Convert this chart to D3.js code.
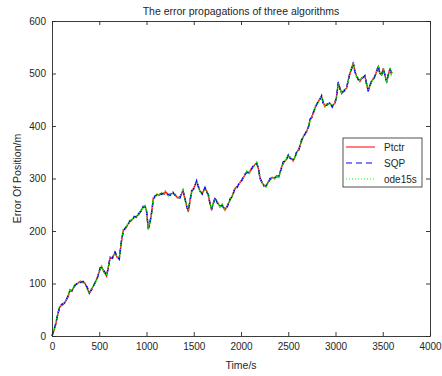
<!DOCTYPE html>
<html><head><meta charset="utf-8">
<script src="https://cdn.jsdelivr.net/npm/d3@7"></script>
<style>body{margin:0;background:#fff}svg{display:block}text{font-family:"Liberation Sans",Arial,sans-serif;fill:#262626}</style>
</head><body>
<script>
const times = [0,20,40,60,80,100,120,140,170,190,210,240,270,300,330,350,370,395,420,455,480,510,526,550,578,600,614,640,667,690,712,735,755,780,800,825,850,870,895,920,945,965,985,1000,1019,1035,1054,1072,1090,1110,1130,1160,1185,1200,1230,1250,1280,1300,1330,1354,1370,1386,1405,1425,1442,1460,1478,1500,1531,1550,1566,1590,1619,1640,1654,1670,1689,1705,1725,1750,1778,1800,1831,1855,1884,1910,1937,1960,1989,2010,2035,2060,2085,2113,2140,2166,2185,2201,2220,2240,2264,2285,2307,2330,2355,2377,2400,2430,2448,2475,2500,2520,2553,2570,2589,2610,2642,2665,2695,2715,2730,2750,2765,2790,2818,2835,2853,2870,2889,2910,2942,2965,2995,3010,3030,3050,3065,3090,3118,3135,3153,3170,3188,3205,3224,3240,3259,3280,3312,3330,3347,3365,3383,3400,3418,3435,3453,3470,3489,3506,3520,3542,3560,3577,3590,3600];
const ptctr = [0,10,22,40,55,58,60,65,75,88,85,97,100,104,102,100,92,81,90,100,112,128,132,122,114,135,148,150,158,150,148,180,202,205,212,218,222,226,228,232,240,245,248,238,203,215,234,262,265,270,268,272,270,275,268,270,272,270,263,265,270,278,262,248,237,258,275,282,294,285,275,272,281,275,268,255,240,252,262,255,246,250,240,248,259,268,281,285,292,298,305,313,310,320,325,330,318,302,292,288,285,292,298,302,300,305,303,322,330,335,343,340,334,340,350,355,372,382,389,400,411,418,424,438,446,452,456,445,437,442,443,438,444,455,482,470,462,468,472,488,500,510,519,505,494,490,485,492,494,480,466,478,485,490,494,505,513,500,497,510,498,485,498,510,500,503];
const sqp = [0,12,24,42,53,60,62,63,77,86,87,95,102,102,104,98,94,83,88,102,110,130,130,124,116,133,150,148,160,152,146,182,200,207,210,220,220,228,226,234,238,247,246,240,205,213,236,260,267,268,270,270,272,273,270,268,274,268,265,263,272,276,264,246,239,256,277,280,296,283,277,270,283,273,270,253,242,250,264,253,248,248,242,246,261,266,283,283,294,296,307,311,312,318,327,328,320,300,294,286,287,290,300,300,302,303,305,320,332,333,345,338,336,338,352,353,374,380,391,398,413,416,426,436,448,450,458,443,439,440,445,436,446,453,484,468,464,466,474,486,502,508,521,503,496,488,487,490,496,478,468,476,487,488,496,503,515,498,499,508,500,483,500,508,502,501];
const ode15s = [0,11,23,41,56,57,61,66,74,89,84,98,99,105,101,101,91,82,91,99,113,127,133,121,115,136,147,151,157,151,149,179,203,204,213,217,223,225,229,231,241,244,249,237,204,216,233,263,264,271,267,273,269,276,267,271,271,271,262,266,269,279,261,249,236,259,274,283,293,286,274,273,280,276,267,256,239,253,261,256,245,251,239,249,258,269,280,286,291,299,304,314,309,321,324,331,317,303,291,289,284,293,297,303,299,306,302,323,329,336,342,341,333,341,349,356,371,383,388,401,410,419,423,439,445,453,455,446,436,443,442,439,443,456,481,471,461,469,471,489,499,511,518,506,493,491,484,493,493,481,465,479,484,491,493,506,512,501,496,511,497,486,497,511,499,504];
const seriesNames = ["Ptctr","SQP","ode15s"];
const xTicks = [0,500,1000,1500,2000,2500,3000,3500,4000];
const yTicks = [0,100,200,300,400,500,600];

const W=442,H=376;
const m={l:52,r:430,t:21,b:336};
const svg=d3.select("body").append("svg").attr("width",W).attr("height",H);
const x=d3.scaleLinear().domain([0,4000]).range([m.l,m.r]);
const y=d3.scaleLinear().domain([0,600]).range([m.b,m.t]);
const axisColor="#262626";

const plot=svg.append("g");
const styles=[{c:"#ff0000",d:null,w:1.4},{c:"#0000ff",d:"5,3",w:1.4},{c:"#00ff00",d:"1,1.5",w:1.5}];
const data=[ptctr,sqp,ode15s];
const line=d3.line().x((d,i)=>x(times[i])).y(d=>y(d));
data.forEach((vals,k)=>{
  plot.append("path").datum(vals).attr("d",line).attr("fill","none")
    .attr("stroke",styles[k].c).attr("stroke-width",styles[k].w)
    .attr("stroke-dasharray",styles[k].d);
});

const fmt=d3.format("d");
const gx=svg.append("g").attr("transform",`translate(0,${m.b})`)
  .call(d3.axisBottom(x).tickValues(xTicks).tickFormat(fmt).tickSizeInner(-4).tickSizeOuter(0).tickPadding(7));
const gy=svg.append("g").attr("transform",`translate(${m.l},0)`)
  .call(d3.axisLeft(y).tickValues(yTicks).tickFormat(fmt).tickSizeInner(-4).tickSizeOuter(0).tickPadding(6));
const gxt=svg.append("g").attr("transform",`translate(0,${m.t})`)
  .call(d3.axisTop(x).tickValues(xTicks).tickSizeInner(-4).tickSizeOuter(0).tickFormat(""));
const gyr=svg.append("g").attr("transform",`translate(${m.r},0)`)
  .call(d3.axisRight(y).tickValues(yTicks).tickSizeInner(-4).tickSizeOuter(0).tickFormat(""));
[gx,gy,gxt,gyr].forEach(g=>{
  g.selectAll("path").attr("stroke",axisColor).attr("stroke-width",0.9);
  g.selectAll("line").attr("stroke",axisColor).attr("stroke-width",0.9);
  g.selectAll("text").attr("font-size",10).attr("fill",axisColor).style("font-family","'Liberation Sans',Arial,sans-serif");
});

svg.append("text").attr("x",(m.l+m.r)/2).attr("y",15).attr("text-anchor","middle").attr("font-size",10.5).text("The error propagations of three algorithms");
svg.append("text").attr("x",(m.l+m.r)/2).attr("y",369).attr("text-anchor","middle").attr("font-size",10.5).text("Time/s");
svg.append("text").attr("transform",`translate(21,${(m.t+m.b)/2}) rotate(-90)`).attr("text-anchor","middle").attr("font-size",10.5).text("Error Of Position/m");

const lg=svg.append("g");
lg.append("rect").attr("x",343).attr("y",138).attr("width",79).attr("height",49).attr("fill","#fff").attr("stroke",axisColor).attr("stroke-width",0.8);
seriesNames.forEach((n,k)=>{
  const yy=147+k*16;
  lg.append("line").attr("x1",346).attr("x2",375).attr("y1",yy).attr("y2",yy)
    .attr("stroke",styles[k].c).attr("stroke-width",1).attr("stroke-dasharray",k===1?"6,4":(k===2?"1,2":null));
  lg.append("text").attr("x",384).attr("y",yy+3.5).attr("font-size",10).text(n);
});
</script>
</body></html>
